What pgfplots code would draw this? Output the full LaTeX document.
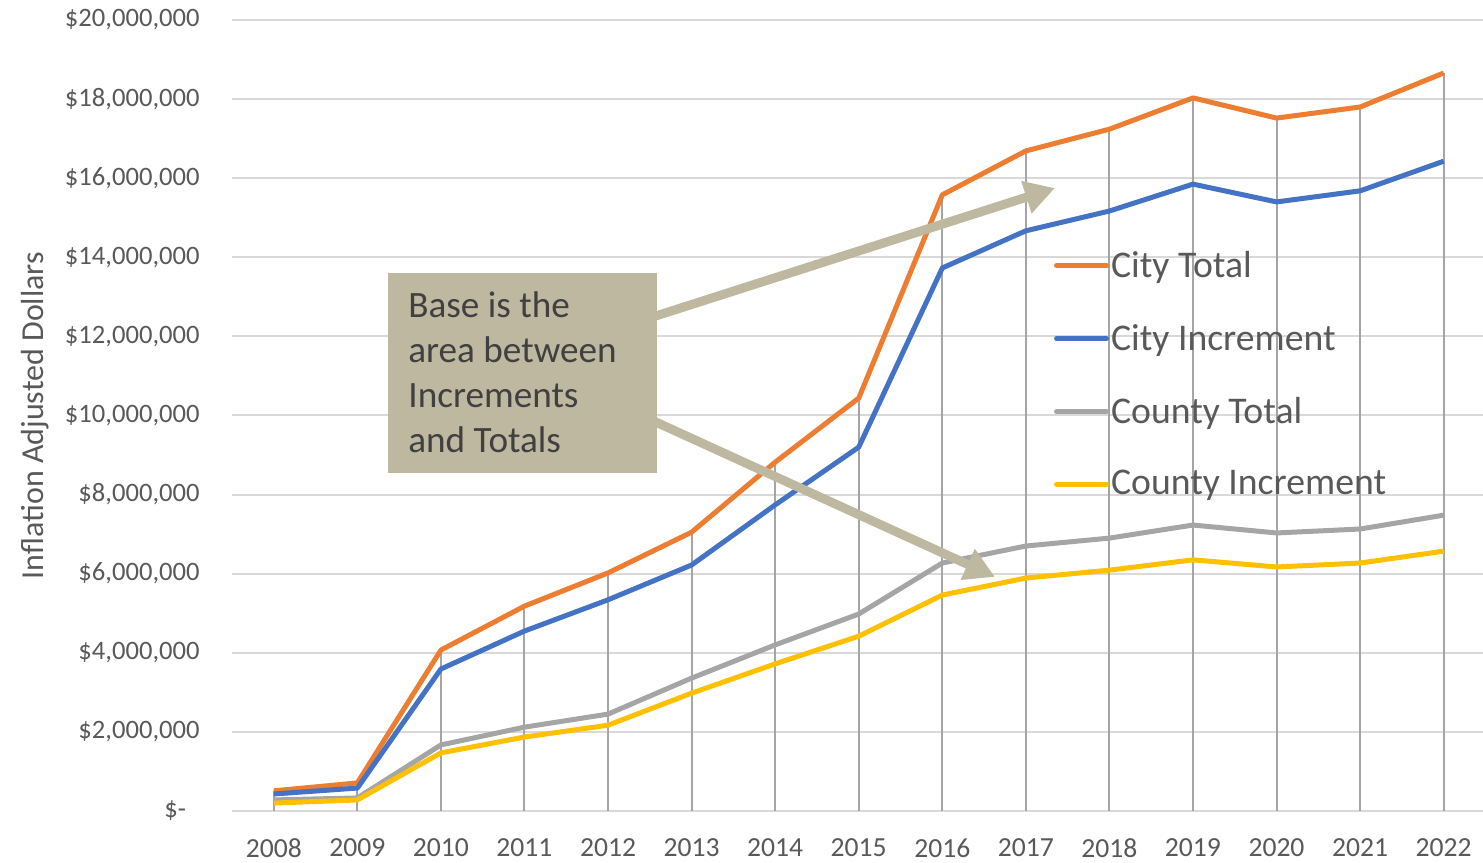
\documentclass[border=0pt]{standalone}
\usepackage{pgfplots}
\pgfplotsset{compat=1.18}
\usepackage{fontspec}
\setmainfont{Carlito}
\usetikzlibrary{arrows.meta}
\definecolor{cOrange}{HTML}{ED7D31}
\definecolor{cBlue}{HTML}{4472C4}
\definecolor{cGray}{HTML}{A5A5A5}
\definecolor{cGold}{HTML}{FFC000}
\definecolor{cGrid}{HTML}{D9D9D9}
\definecolor{cDrop}{HTML}{A5A5A5}
\definecolor{cText}{HTML}{595959}
\definecolor{cTan}{RGB}{190,184,160}
\definecolor{cBoxText}{HTML}{404040}

\pgfplotstableread{
year cityTotal cityInc countyTotal countyInc
2008 0.51 0.43 0.28 0.20
2009 0.71 0.58 0.33 0.28
2010 4.07 3.59 1.67 1.47
2011 5.18 4.55 2.12 1.87
2012 6.02 5.34 2.45 2.17
2013 7.05 6.22 3.36 2.98
2014 8.82 7.74 4.20 3.72
2015 10.44 9.20 4.98 4.42
2016 15.58 13.73 6.27 5.46
2017 16.69 14.67 6.70 5.89
2018 17.24 15.17 6.90 6.09
2019 18.03 15.85 7.23 6.35
2020 17.52 15.40 7.03 6.17
2021 17.80 15.68 7.13 6.27
2022 18.66 16.43 7.48 6.57
}\datatable

\begin{document}
\begin{tikzpicture}
\path[use as bounding box] (-116pt,-25.5pt) rectangle (625.5pt,405.5pt);
\begin{axis}[
  at={(0,0)}, anchor=south west,
  scale only axis,
  width=625.5pt, height=395.5pt,
  xmin=2007.5, xmax=2022.47,
  ymin=0, ymax=20,
  axis line style={draw=none},
  major tick length=0pt,
  xtick={2008,...,2022},
  xticklabels={2008,2009,2010,2011,2012,2013,2014,2015,2016,2017,2018,2019,2020,2021,2022},
  ytick={0,2,...,20},
  yticklabels={\$-\hphantom{0},{\$2,000,000},{\$4,000,000},{\$6,000,000},{\$8,000,000},{\$10,000,000},{\$12,000,000},{\$14,000,000},{\$16,000,000},{\$18,000,000},{\$20,000,000}},
  ymajorgrids,
  grid style={cGrid, line width=1pt},
  ticklabel style={text=cText},
  yticklabel style={anchor=east, inner sep=0pt, xshift=-16pt, font=\fontsize{13.3}{16}\selectfont},
  xticklabel style={anchor=north, inner sep=0pt, yshift=-13.5pt, font=\fontsize{13.8}{16}\selectfont},
  ylabel={Inflation Adjusted Dollars},
  ylabel style={at={(axis description cs:-0.1575,0.5)}, anchor=center, rotate=0, font=\fontsize{16}{19}\selectfont, text=cText},
  legend style={draw=none, fill=none, at={(rel axis cs:0.652,0.716)}, anchor=north west,
    font=\fontsize{18.85}{22}\selectfont, text=cText, row sep=20pt,
    nodes={inner sep=1pt}},
  legend cell align=left,
  legend image code/.code={\draw[#1, line width=2.5pt, line cap=round] (0pt,0pt) -- (25pt,0pt);},
  every axis plot/.append style={line width=2.5pt, line join=round},
  clip=false,
]
\addplot[ycomb, cDrop, line width=1pt, forget plot] table[x=year, y=cityTotal] {\datatable};
\addplot[cOrange, mark=none] table[x=year, y=cityTotal] {\datatable};
\addlegendentry{City Total}
\addplot[cBlue, mark=none] table[x=year, y=cityInc] {\datatable};
\addlegendentry{City Increment}
\addplot[cGray, mark=none] table[x=year, y=countyTotal] {\datatable};
\addlegendentry{County Total}
\addplot[cGold, mark=none] table[x=year, y=countyInc] {\datatable};
\addlegendentry{County Increment}

\draw[cTan, line width=4.5pt, -{Triangle[length=15pt,width=16pt]}] (axis cs:2012.4,12.40) -- (axis cs:2017.348,15.75);
\draw[cTan, line width=4.5pt, -{Triangle[length=15pt,width=16pt]}] (axis cs:2012.4,10.00) -- (axis cs:2016.63,5.92);
\node[fill=cTan, anchor=south west, minimum width=134.5pt, minimum height=100pt, inner sep=0pt] at (axis cs:2009.367,8.546) {};
\node[anchor=north west, text=cBoxText, font=\fontsize{18.6}{22.5}\selectfont, align=left, inner sep=0pt] at (axis cs:2009.606,13.15) {Base is the\\area between\\Increments\\and Totals};
\end{axis}
\end{tikzpicture}
\end{document}
